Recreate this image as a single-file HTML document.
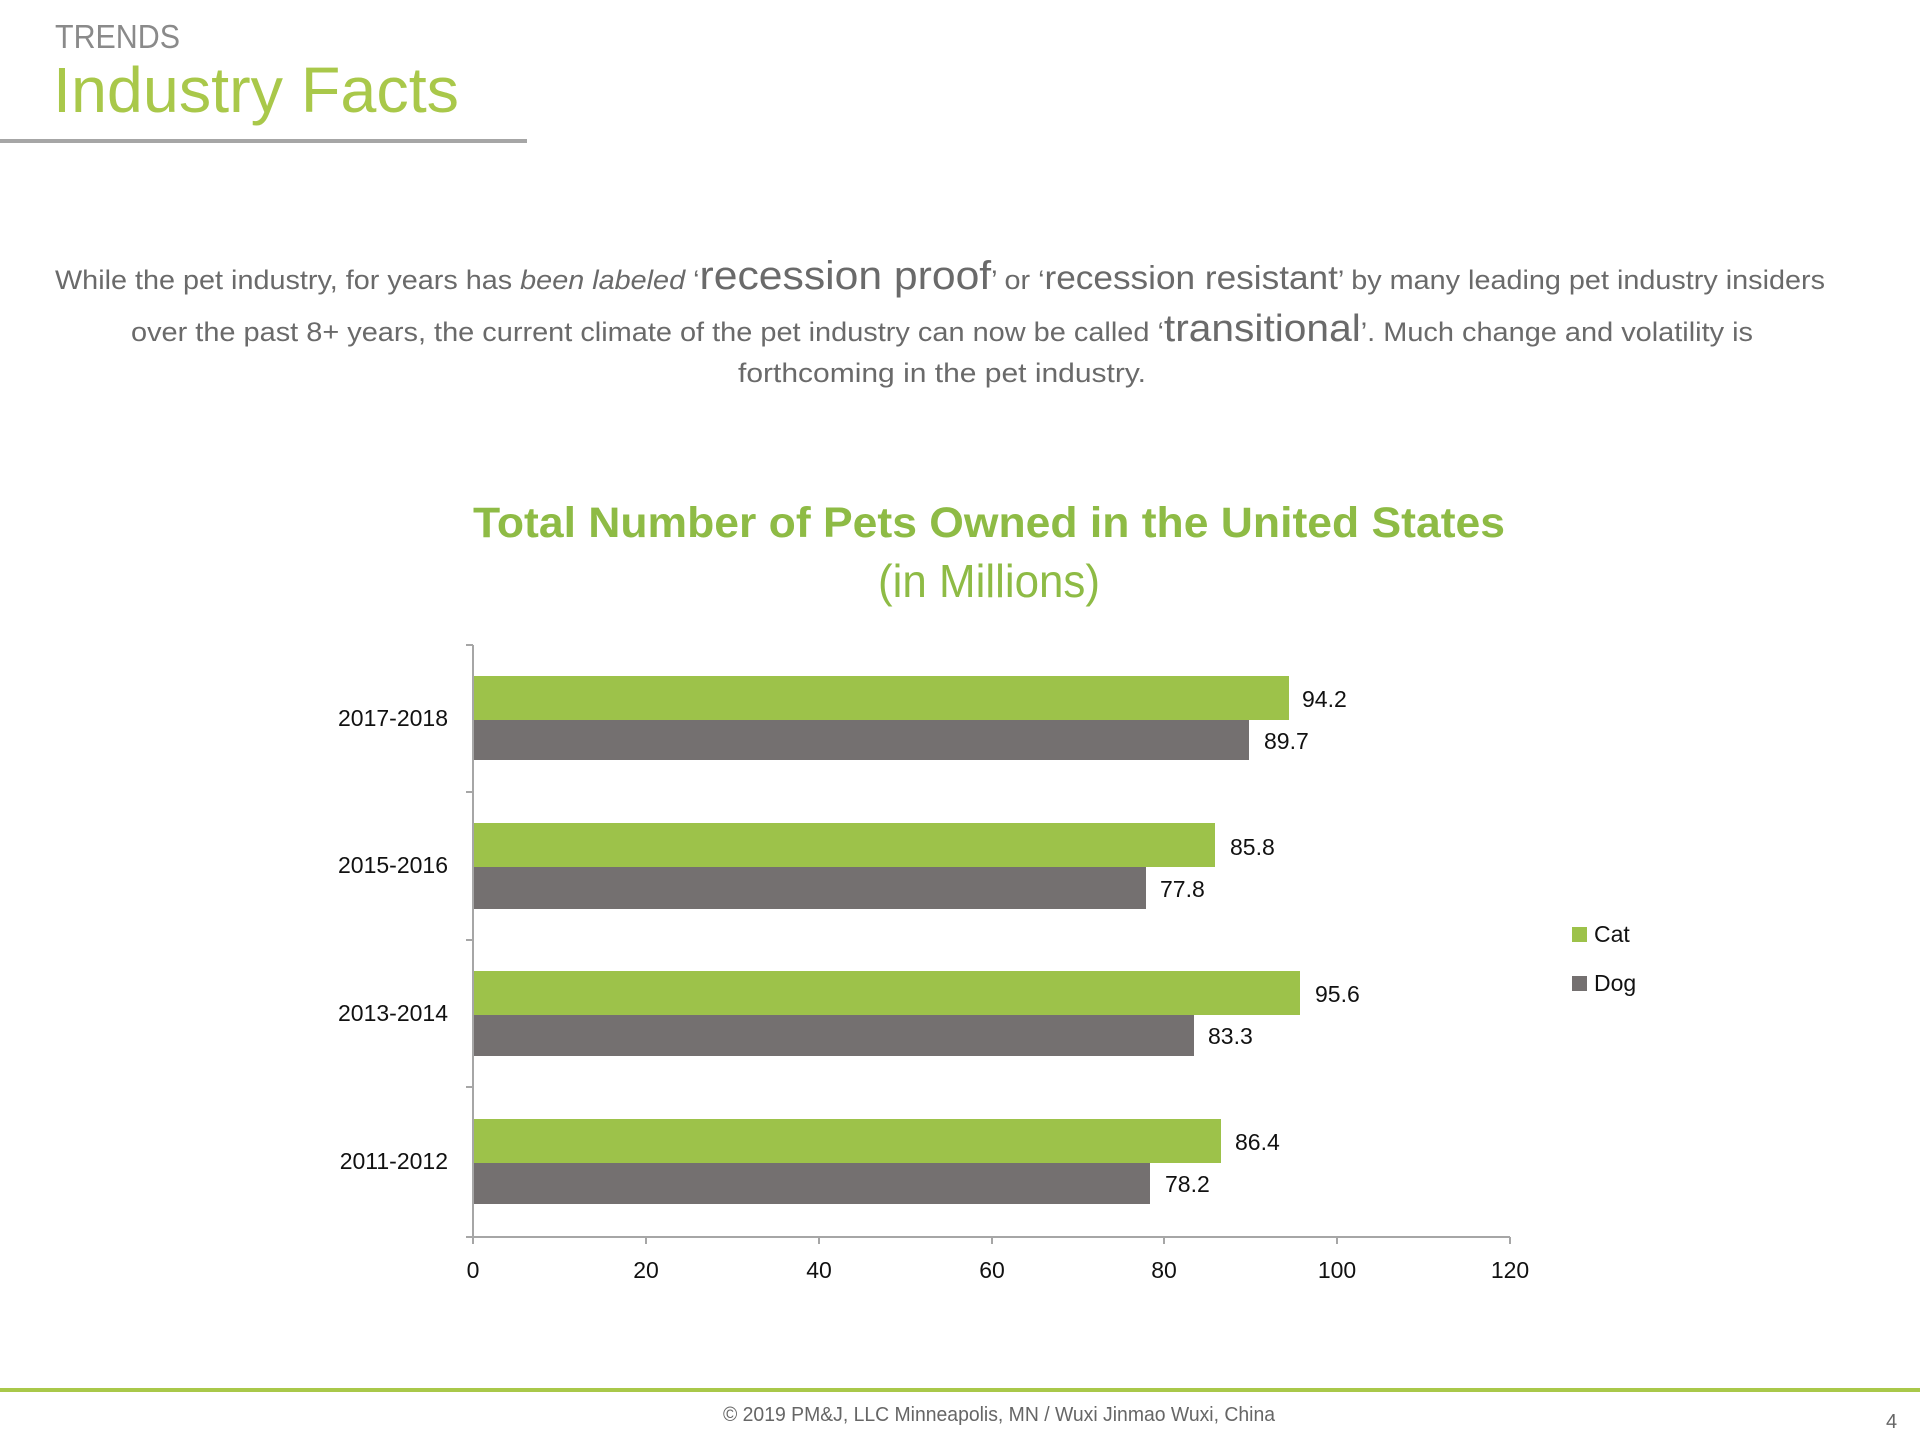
<!DOCTYPE html>
<html><head><meta charset="utf-8"><style>
html,body{margin:0;padding:0;background:#fff;}
svg{display:block;font-family:"Liberation Sans",sans-serif;}
</style></head><body>
<svg width="1920" height="1440" viewBox="0 0 1920 1440" xmlns="http://www.w3.org/2000/svg">
<text x="55" y="48" font-size="33" fill="#8a8a8a" textLength="125" lengthAdjust="spacingAndGlyphs">TRENDS</text>
<text x="53" y="112" font-size="64" fill="#a9c84a" textLength="406" lengthAdjust="spacingAndGlyphs">Industry Facts</text>
<rect x="0" y="139" width="527" height="4" fill="#a6a6a6"/>

<g fill="#6a6a6a" font-size="27">
<text x="55" y="289" textLength="1770" lengthAdjust="spacingAndGlyphs">While the pet industry, for years has <tspan font-style="italic">been labeled</tspan> ‘<tspan font-size="40">recession proof</tspan>’ or ‘<tspan font-size="33">recession resistant</tspan>’ by many leading pet industry insiders</text>
<text x="131" y="341" textLength="1622" lengthAdjust="spacingAndGlyphs">over the past 8+ years, the current climate of the pet industry can now be called ‘<tspan font-size="38">transitional</tspan>’. Much change and volatility is</text>
<text x="738" y="382" textLength="408" lengthAdjust="spacingAndGlyphs">forthcoming in the pet industry.</text>
</g>

<text x="989" y="537" font-size="43" font-weight="bold" fill="#8ebb45" text-anchor="middle" textLength="1032" lengthAdjust="spacingAndGlyphs">Total Number of Pets Owned in the United States</text>
<text x="989" y="597" font-size="46" fill="#8ebb45" text-anchor="middle" textLength="222" lengthAdjust="spacingAndGlyphs">(in Millions)</text>

<g stroke="#a6a6a6" stroke-width="2">
<line x1="473" y1="645" x2="473" y2="1237"/>
<line x1="473" y1="1237" x2="1510" y2="1237"/>
<line x1="466" y1="645" x2="473" y2="645"/>
<line x1="466" y1="792" x2="473" y2="792"/>
<line x1="466" y1="940" x2="473" y2="940"/>
<line x1="466" y1="1087" x2="473" y2="1087"/>
<line x1="466" y1="1237" x2="473" y2="1237"/>
<line x1="473" y1="1237" x2="473" y2="1244"/>
<line x1="646" y1="1237" x2="646" y2="1244"/>
<line x1="819" y1="1237" x2="819" y2="1244"/>
<line x1="992" y1="1237" x2="992" y2="1244"/>
<line x1="1164" y1="1237" x2="1164" y2="1244"/>
<line x1="1337" y1="1237" x2="1337" y2="1244"/>
<line x1="1510" y1="1237" x2="1510" y2="1244"/>
</g>

<g fill="#9dc24a">
<rect x="474" y="676" width="815" height="44"/>
<rect x="474" y="823" width="741" height="44"/>
<rect x="474" y="971" width="826" height="44"/>
<rect x="474" y="1119" width="747" height="44"/>
</g>
<g fill="#747070">
<rect x="474" y="720" width="775" height="40"/>
<rect x="474" y="867" width="672" height="42"/>
<rect x="474" y="1015" width="720" height="41"/>
<rect x="474" y="1163" width="676" height="41"/>
</g>

<g font-size="23" fill="#111">
<text x="1302" y="707">94.2</text>
<text x="1264" y="749">89.7</text>
<text x="1230" y="855">85.8</text>
<text x="1160" y="897">77.8</text>
<text x="1315" y="1002">95.6</text>
<text x="1208" y="1044">83.3</text>
<text x="1235" y="1150">86.4</text>
<text x="1165" y="1192">78.2</text>
</g>
<g font-size="23" fill="#111" text-anchor="end">
<text x="448" y="726">2017-2018</text>
<text x="448" y="873">2015-2016</text>
<text x="448" y="1021">2013-2014</text>
<text x="448" y="1169">2011-2012</text>
</g>
<g font-size="23" fill="#111" text-anchor="middle">
<text x="473" y="1278">0</text>
<text x="646" y="1278">20</text>
<text x="819" y="1278">40</text>
<text x="992" y="1278">60</text>
<text x="1164" y="1278">80</text>
<text x="1337" y="1278">100</text>
<text x="1510" y="1278">120</text>
</g>

<rect x="1572" y="927" width="15" height="15" fill="#9dc24a"/>
<text x="1594" y="942" font-size="23" fill="#111">Cat</text>
<rect x="1572" y="976" width="15" height="15" fill="#747070"/>
<text x="1594" y="991" font-size="23" fill="#111">Dog</text>

<rect x="0" y="1388" width="1920" height="4" fill="#a9c84a"/>
<text x="723" y="1421" font-size="20" fill="#666" textLength="552" lengthAdjust="spacingAndGlyphs">© 2019 PM&amp;J, LLC  Minneapolis, MN  /  Wuxi Jinmao  Wuxi, China</text>
<text x="1886" y="1428" font-size="20" fill="#666">4</text>
</svg>
</body></html>
